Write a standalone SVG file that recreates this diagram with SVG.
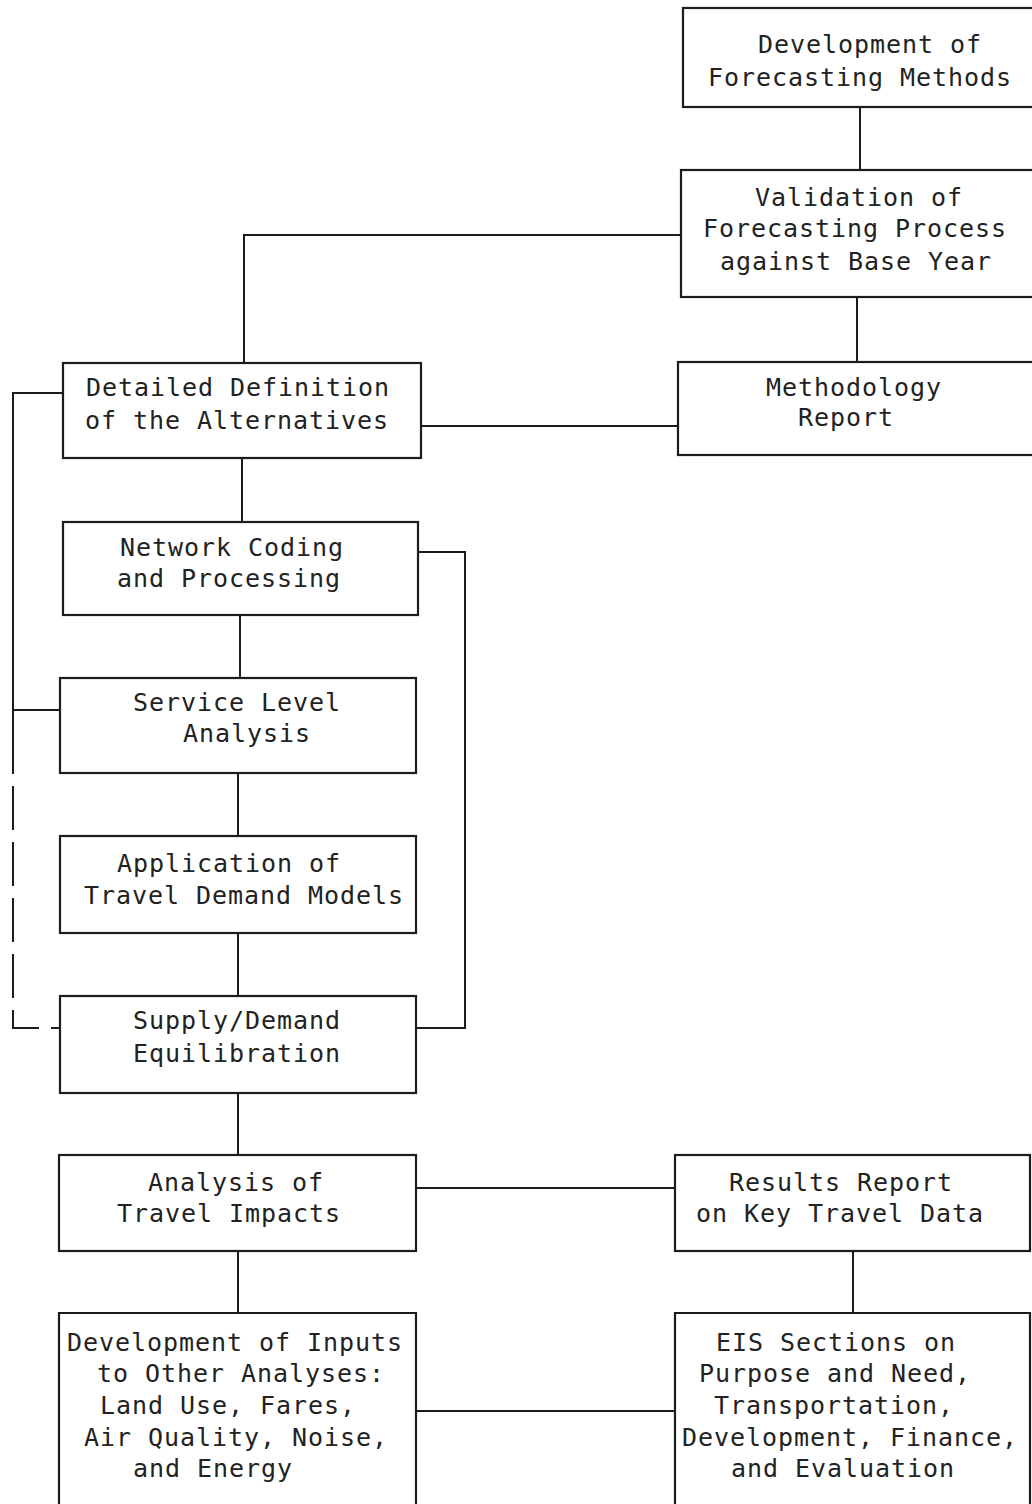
<svg xmlns="http://www.w3.org/2000/svg" width="1032" height="1504" viewBox="0 0 1032 1504">
<style>
.box{fill:none;stroke:#1c1c1c;stroke-width:2.2}
.ln{fill:none;stroke:#1c1c1c;stroke-width:2}
.dash{fill:none;stroke:#1c1c1c;stroke-width:2;stroke-dasharray:44 12}
text{font-family:"DejaVu Sans Mono","Liberation Mono",monospace;font-size:25px;letter-spacing:0.95px;fill:#222}
</style>
<rect width="1032" height="1504" fill="#ffffff"/>
<g id="connectors">
<path class="ln" d="M860,107 V170"/>
<path class="ln" d="M681,235 H244 V363"/>
<path class="ln" d="M857,297 V362"/>
<path class="ln" d="M421,426 H678"/>
<path class="ln" d="M242,458 V522"/>
<path class="ln" d="M63,393 H13 V730"/>
<path class="ln" d="M13,710 H60"/>
<path class="dash" d="M13,730 V1028 H60"/>
<path class="ln" d="M418,552 H465 V1028 H416"/>
<path class="ln" d="M240,615 V678"/>
<path class="ln" d="M238,773 V836"/>
<path class="ln" d="M238,933 V996"/>
<path class="ln" d="M238,1093 V1155"/>
<path class="ln" d="M416,1188 H675"/>
<path class="ln" d="M238,1251 V1313"/>
<path class="ln" d="M853,1251 V1313"/>
<path class="ln" d="M416,1411 H675"/>
</g>
<g id="n1">
<rect class="box" x="683" y="8" width="352" height="99"/>
<text x="758" y="53">Development of</text>
<text x="708" y="86">Forecasting Methods</text>
</g>
<g id="n2">
<rect class="box" x="681" y="170" width="354" height="127"/>
<text x="755" y="206">Validation of</text>
<text x="703" y="237">Forecasting Process</text>
<text x="720" y="270">against Base Year</text>
</g>
<g id="n3">
<rect class="box" x="678" y="362" width="357" height="93"/>
<text x="766" y="396">Methodology</text>
<text x="798" y="426">Report</text>
</g>
<g id="n4">
<rect class="box" x="63" y="363" width="358" height="95"/>
<text x="86" y="396">Detailed Definition</text>
<text x="85" y="429">of the Alternatives</text>
</g>
<g id="n5">
<rect class="box" x="63" y="522" width="355" height="93"/>
<text x="120" y="556">Network Coding</text>
<text x="117" y="587">and Processing</text>
</g>
<g id="n6">
<rect class="box" x="60" y="678" width="356" height="95"/>
<text x="133" y="711">Service Level</text>
<text x="183" y="742">Analysis</text>
</g>
<g id="n7">
<rect class="box" x="60" y="836" width="356" height="97"/>
<text x="117" y="872">Application of</text>
<text x="84" y="904">Travel Demand Models</text>
</g>
<g id="n8">
<rect class="box" x="60" y="996" width="356" height="97"/>
<text x="133" y="1029">Supply/Demand</text>
<text x="133" y="1062">Equilibration</text>
</g>
<g id="n9">
<rect class="box" x="59" y="1155" width="357" height="96"/>
<text x="148" y="1191">Analysis of</text>
<text x="117" y="1222">Travel Impacts</text>
</g>
<g id="n10">
<rect class="box" x="675" y="1155" width="355" height="96"/>
<text x="729" y="1191">Results Report</text>
<text x="696" y="1222">on Key Travel Data</text>
</g>
<g id="n11">
<path class="box" d="M59,1506 V1313 H416 V1506"/>
<text x="67" y="1351">Development of Inputs</text>
<text x="97" y="1382">to Other Analyses:</text>
<text x="100" y="1414">Land Use, Fares,</text>
<text x="84" y="1446">Air Quality, Noise,</text>
<text x="133" y="1477">and Energy</text>
</g>
<g id="n12">
<path class="box" d="M675,1506 V1313 H1030 V1506"/>
<text x="716" y="1351">EIS Sections on</text>
<text x="699" y="1382">Purpose and Need,</text>
<text x="714" y="1414">Transportation,</text>
<text x="682" y="1446">Development, Finance,</text>
<text x="731" y="1477">and Evaluation</text>
</g>
</svg>
